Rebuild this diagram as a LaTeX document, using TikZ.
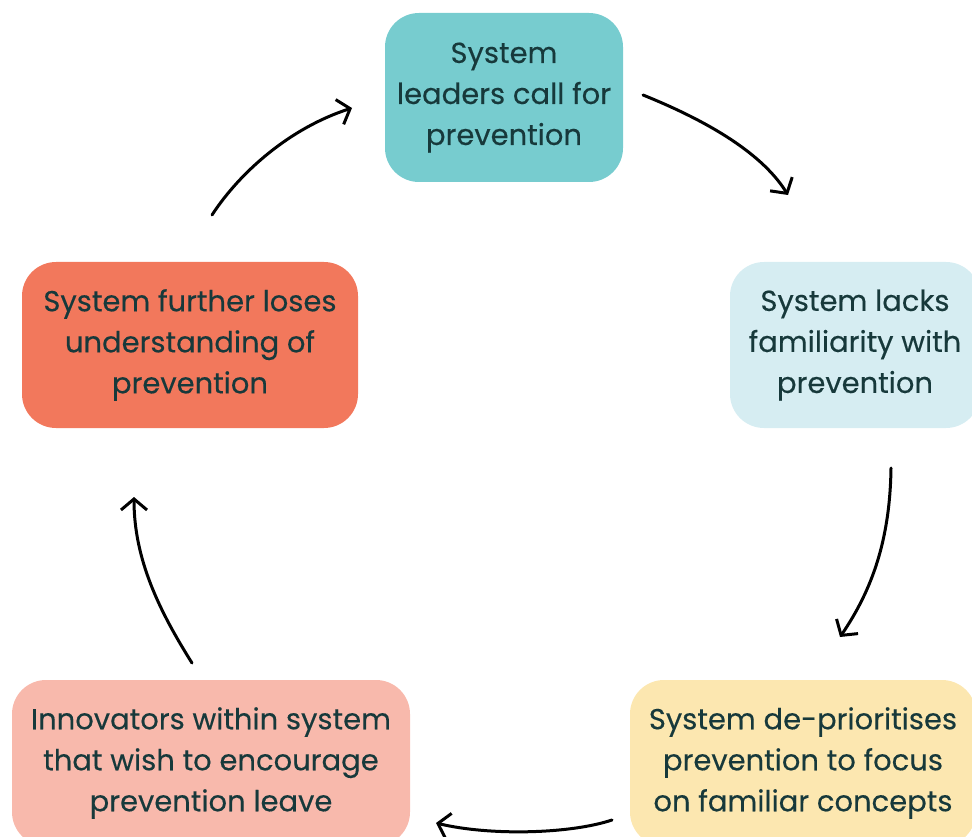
\documentclass[tikz,border=0pt]{standalone}
\usepackage{fontspec}
\setmainfont{Poppins}[UprightFeatures={FakeBold=0.25}]
\usetikzlibrary{arrows.meta}
\definecolor{tealbox}{HTML}{77CCCF}
\definecolor{skybox}{HTML}{D6EDF2}
\definecolor{sandbox}{HTML}{FCE7B0}
\definecolor{blushbox}{HTML}{F8B9AC}
\definecolor{coralbox}{HTML}{F2785C}
\definecolor{inkdark}{HTML}{17393B}
\begin{document}
\begin{tikzpicture}[x=1pt,y=-1pt,
  stage/.style={rounded corners=34pt, align=center, text=inkdark,
    font=\fontsize{29}{41}\selectfont, inner sep=0pt},
  flow/.style={line width=3pt, line cap=round, line join=round,
    -{Straight Barb[length=11pt,width=26pt]}}]
\useasboundingbox (0,0) rectangle (972,837);
\clip (0,0) rectangle (972,837);

% the five stages of the cycle
\node[stage, fill=tealbox, minimum width=238pt, minimum height=169pt] (lead) at (504,97.5)
  {System\\leaders call for\\prevention};
\node[stage, fill=skybox, minimum width=250pt, minimum height=166pt] (lack) at (855,345)
  {System lacks\\familiarity with\\prevention};
\node[stage, fill=sandbox, minimum width=346pt, minimum height=166pt] (deprio) at (803,763)
  {System de-prioritises\\prevention to focus\\on familiar concepts};
\node[stage, fill=blushbox, minimum width=398pt, minimum height=166pt] (leave) at (211,763)
  {Innovators within system\\that wish to encourage\\prevention leave};
\node[stage, fill=coralbox, minimum width=336pt, minimum height=166pt] (lose) at (190,345)
  {System further loses\\understanding of\\prevention};

% free ends of the hand-drawn arrows
\coordinate (f1s) at (643,95);   \coordinate (f1e) at (788,195);
\coordinate (f2s) at (891,468);  \coordinate (f2e) at (840,637);
\coordinate (f3s) at (612,820);  \coordinate (f3e) at (436,823);
\coordinate (f4s) at (192,663);  \coordinate (f4e) at (134,497);
\coordinate (f5s) at (212,215);  \coordinate (f5e) at (352,108);

\draw[flow] (f1s) .. controls (700,118) and (760,150) .. (f1e);
\draw[flow] (f2s) .. controls (890,540) and (872,590) .. (f2e);
\draw[flow] (f3s) .. controls (570,834) and (490,836) .. (f3e);
\draw[flow] (f4s) .. controls (160,612) and (134,560) .. (f4e);
\draw[flow] (f5s) .. controls (240,172) and (290,128) .. (f5e);
\end{tikzpicture}
\end{document}
